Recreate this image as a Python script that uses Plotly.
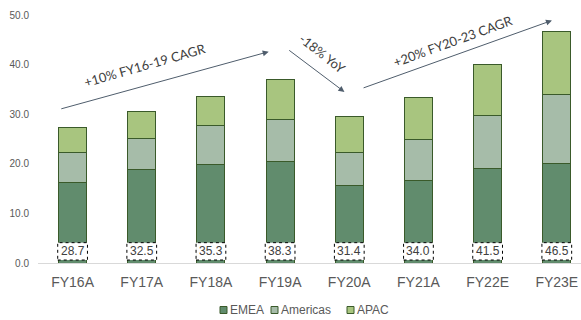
import plotly.graph_objects as go

categories = ["FY16A", "FY17A", "FY18A", "FY19A", "FY20A", "FY21A", "FY22E", "FY23E"]
emea = [16.3, 18.9, 19.8, 20.4, 15.7, 16.6, 19.0, 20.0]
americas = [6.0, 6.2, 7.9, 8.5, 6.6, 8.4, 10.7, 14.0]
apac = [5.1, 5.4, 5.8, 8.1, 7.3, 8.4, 10.4, 12.6]
totals = ["28.7", "32.5", "35.3", "38.3", "31.4", "34.0", "41.5", "46.5"]
y_ticks = [0, 10, 20, 30, 40, 50]

series_names = ["EMEA", "Americas", "APAC"]
series_colors = ["#618c6d", "#a6bca9", "#a8c57f"]
outline = "#3a5a2a"
text_gray = "#595959"
arrow_color = "#4f5d6c"

W, H = 581, 320
ML, MR, MT, MB = 38, 0, 15, 57
PW = W - ML - MR
PH = H - MT - MB

fig = go.Figure()
for name, vals, col in zip(series_names, [emea, americas, apac], series_colors):
    fig.add_trace(go.Bar(
        x=categories, y=vals, name=name,
        marker=dict(color=col, line=dict(color=outline, width=1)),
        showlegend=False, hoverinfo="x+y+name",
    ))

shapes = []
annotations = []

# total boxes at the bottom of each bar
for i, t in enumerate(totals):
    shapes.append(dict(type="rect", xref="x", yref="y",
                       x0=i - 0.215, x1=i + 0.215, y0=0.6, y1=4.1,
                       line=dict(color="black", width=1, dash="dot"),
                       fillcolor="white", layer="above"))
    annotations.append(dict(x=i, y=2.35, xref="x", yref="y", text=t,
                            showarrow=False,
                            font=dict(family="Liberation Sans, Arial", size=12, color="#404040")))

# trend arrows (head x,y ; tail ax,ay)
arrows = [
    (2.835, 42.6, -0.185, 31.0),
    (3.93, 34.5, 3.11, 43.1),
    (6.93, 48.9, 4.185, 35.2),
]
for hx, hy, tx, ty in arrows:
    annotations.append(dict(x=hx, y=hy, ax=tx, ay=ty, xref="x", yref="y",
                            axref="x", ayref="y", text="", showarrow=True,
                            arrowhead=2, arrowsize=1.2, arrowwidth=1,
                            arrowcolor=arrow_color))

trend_labels = [
    ("+10% FY16-19 CAGR", 1.05, 39.9, -16),
    ("-18% YoY", 3.62, 42.1, 38),
    ("+20% FY20-23 CAGR", 5.5, 44.8, -20),
]
for txt, x, y, ang in trend_labels:
    annotations.append(dict(x=x, y=y, xref="x", yref="y", text=txt,
                            showarrow=False, textangle=ang,
                            font=dict(family="Lato, Open Sans", size=13, color="#404040")))

# custom legend (pixel positions converted to paper coords)
def px_x(p):
    return (p - ML) / PW

def px_y(p):
    return (MT + PH - p) / PH

legend_x = [220, 271, 347]
for name, col, lx in zip(series_names, series_colors, legend_x):
    shapes.append(dict(type="rect", xref="paper", yref="paper",
                       x0=px_x(lx), x1=px_x(lx + 7), y0=px_y(313.5), y1=px_y(306.5),
                       line=dict(color=outline, width=1), fillcolor=col))
    annotations.append(dict(x=px_x(lx + 8), y=px_y(310), xref="paper", yref="paper",
                            xanchor="left", yanchor="middle", text=name, showarrow=False,
                            font=dict(family="Liberation Sans, Arial", size=12, color=text_gray)))

fig.update_layout(
    width=W, height=H,
    margin=dict(l=ML, r=MR, t=MT, b=MB, pad=0),
    barmode="stack", bargap=0.595,
    plot_bgcolor="white", paper_bgcolor="white",
    shapes=shapes, annotations=annotations,
    xaxis=dict(range=[-0.5, 7.35], showline=True, linecolor="#d9d9d9", linewidth=1,
               showgrid=False, ticks="", ticklabelstandoff=6,
               tickfont=dict(family="Liberation Sans, Arial", size=14, color=text_gray)),
    yaxis=dict(range=[0, 50], tickvals=y_ticks, ticktext=[f"{v:.1f}" for v in y_ticks],
               showgrid=False, zeroline=False, showline=False, ticks="",
               ticklabelstandoff=8,
               tickfont=dict(family="Liberation Sans, Arial", size=10, color=text_gray)),
    showlegend=False,
)

fig.write_html("out.html")
